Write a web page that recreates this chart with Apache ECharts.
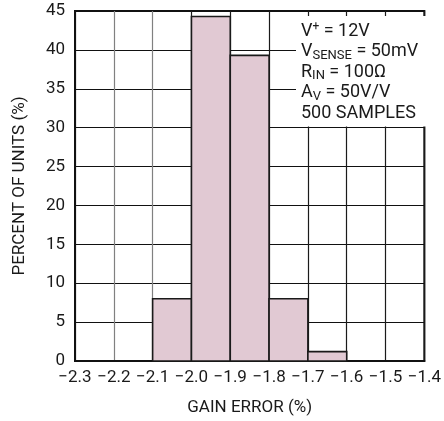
<!DOCTYPE html>
<html>
<head>
<meta charset="utf-8">
<script src="https://cdn.jsdelivr.net/npm/echarts@6/dist/echarts.min.js"></script>
<style>
  html, body { margin: 0; padding: 0; background: #fff; }
  #chart { width: 444px; height: 421px; }
</style>
</head>
<body>
<div id="chart"></div>
<script>
// Histogram bins: gain error (%) ranges and share of units (%)
const binStart = [-2.1, -2.0, -1.9, -1.8, -1.7];
const binEnd   = [-2.0, -1.9, -1.8, -1.7, -1.6];
const percentOfUnits = [8, 44.3, 39.3, 8, 1.2];

const xTicks = [-2.3, -2.2, -2.1, -2.0, -1.9, -1.8, -1.7, -1.6, -1.5, -1.4];
const yTicks = [0, 5, 10, 15, 20, 25, 30, 35, 40, 45];

const FONT = 'Roboto, "Liberation Sans", Arial, sans-serif';

const chart = echarts.init(document.getElementById('chart'), null, { renderer: 'canvas' });

const fmtX = v => (v < -1e-9 ? '\u2212' : '') + Math.abs(v).toFixed(1);

const bars = binStart.map((s, i) => [s, binEnd[i], percentOfUnits[i]]);

// vertical grid: the two leftmost inner lines print lighter
const vGridColors = xTicks.map((t, i) => (i === 1 || i === 2) ? '#808080' : '#1a1a1a');

chart.setOption({
  animation: false,
  grid: { left: 75, right: 17, top: 11, bottom: 59, show: true, borderColor: '#111', borderWidth: 2 },
  xAxis: {
    type: 'value',
    min: xTicks[0], max: xTicks[xTicks.length - 1], interval: 0.1,
    axisLine: { show: true, lineStyle: { color: '#111', width: 2 } },
    axisTick: { show: false },
    axisLabel: { formatter: fmtX, color: '#1a1a1a', fontFamily: FONT, fontSize: 17, margin: 8 },
    splitLine: { show: true, lineStyle: { color: vGridColors, width: 1.2 } },
    name: 'GAIN ERROR (%)', nameLocation: 'middle', nameGap: 38,
    nameTextStyle: { color: '#1a1a1a', fontFamily: FONT, fontSize: 17 }
  },
  yAxis: {
    type: 'value',
    min: yTicks[0], max: yTicks[yTicks.length - 1], interval: 5,
    axisLine: { show: true, lineStyle: { color: '#111', width: 2 } },
    axisTick: { show: false },
    axisLabel: { color: '#1a1a1a', fontFamily: FONT, fontSize: 17, margin: 10 },
    splitLine: { show: true, lineStyle: { color: '#111', width: 1.2 } },
    name: 'PERCENT OF UNITS (%)', nameLocation: 'middle', nameGap: 47, nameRotate: 90,
    nameTextStyle: { color: '#1a1a1a', fontFamily: FONT, fontSize: 17 }
  },
  series: [{
    type: 'custom',
    data: bars,
    renderItem: (params, api) => {
      const p0 = api.coord([api.value(0), api.value(2)]);
      const p1 = api.coord([api.value(1), 0]);
      return {
        type: 'rect',
        shape: { x: p0[0], y: p0[1], width: p1[0] - p0[0], height: p1[1] - p0[1] },
        style: { fill: '#e1c9d3', stroke: '#1a1a1a', lineWidth: 1.6 }
      };
    },
    z: 3
  }],
  graphic: [{
    type: 'text',
    left: 296, top: 16, z: 10,
    style: {
      text: [
        '{t|V}{sup|+}{t| = 12V}',
        '{t|V}{sub|SENSE}{t| = 50mV}',
        '{t|R}{sub|IN}{t| = 100\u03A9}',
        '{t|A}{sub|V}{t| = 50V/V}',
        '{t|500 SAMPLES}'
      ].join('\n'),
      fill: '#1a1a1a',
      backgroundColor: '#fff',
      padding: [5, 8, 3, 5],
      lineHeight: 20.5,
      rich: {
        t:   { fontFamily: FONT, fontSize: 18, fill: '#1a1a1a', lineHeight: 20.5 },
        sub: { fontFamily: FONT, fontSize: 13, fill: '#1a1a1a', verticalAlign: 'bottom', padding: [7, 0, 0, 0], lineHeight: 20.5 },
        sup: { fontFamily: FONT, fontSize: 12, fill: '#1a1a1a', verticalAlign: 'top', padding: [0, 0, 7, 0], lineHeight: 20.5 }
      }
    }
  }]
});
</script>
</body>
</html>
